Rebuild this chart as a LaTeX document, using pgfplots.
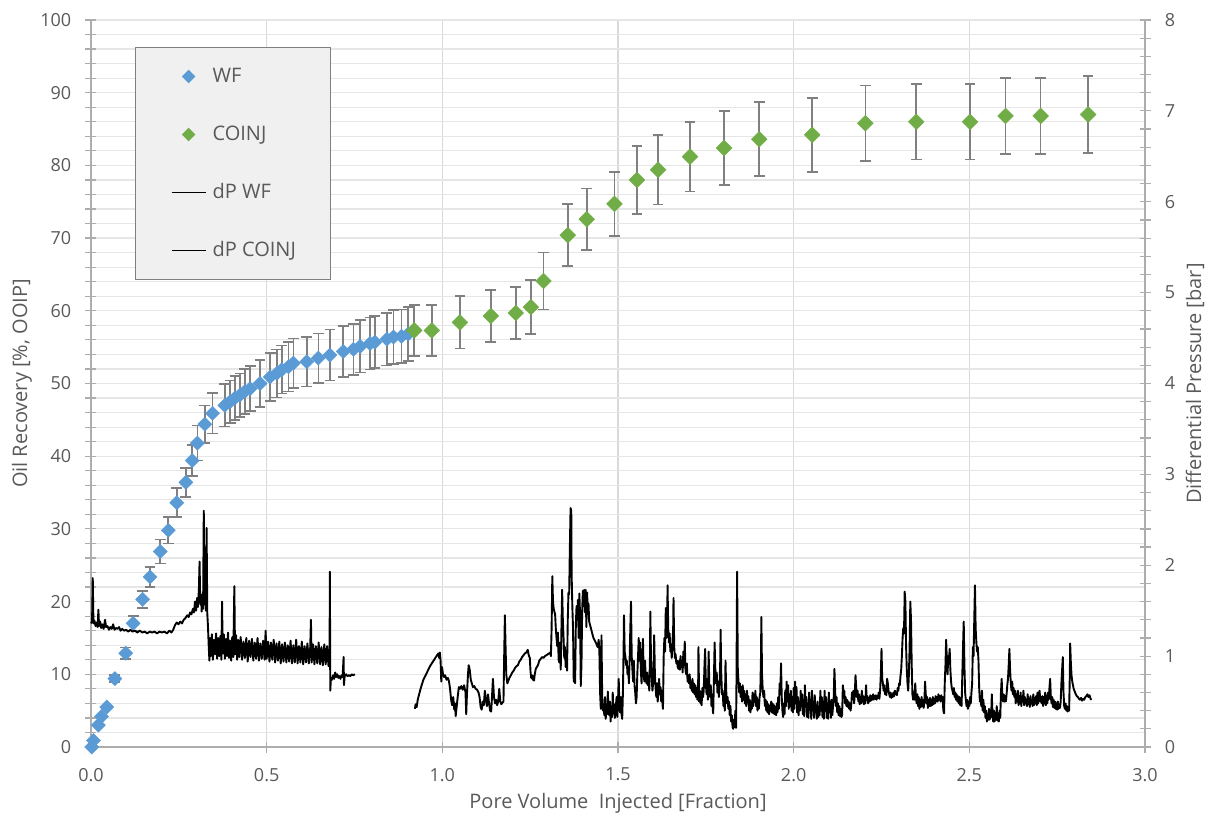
\documentclass[border=0pt]{standalone}
\usepackage{fontspec}
\setmainfont{Open Sans}
\usepackage{pgfplots}
\usepackage{pgfplotstable}
\pgfplotsset{compat=1.18}

\definecolor{wfblue}{HTML}{5B9BD5}
\definecolor{cogreen}{HTML}{70AD47}
\definecolor{txtgray}{HTML}{595959}
\definecolor{axgray}{HTML}{ADADAD}
\definecolor{vgrid}{HTML}{D9D9D9}
\definecolor{hgrid}{HTML}{E6E6E6}
\definecolor{errgray}{HTML}{808080}
\definecolor{legdraw}{HTML}{7F7F7F}
\definecolor{legfill}{HTML}{F0F0F0}

% Oil recovery, waterflood stage: PV injected, recovery [%OOIP], error
\pgfplotstableread{
x y e
0.002 0.0 0.0
0.007 0.9 0.0
0.021 3.0 0.0
0.030 4.2 0.0
0.045 5.5 0.0
0.068 9.4 0.5
0.099 12.9 0.8
0.120 17.0 1.0
0.147 20.3 1.15
0.168 23.4 1.4
0.197 26.9 1.65
0.220 29.8 1.8
0.244 33.6 2.0
0.270 36.4 2.0
0.288 39.4 2.1
0.303 41.8 2.4
0.324 44.4 2.6
0.346 45.9 2.8
0.381 47.0 2.9
0.396 47.5 2.9
0.410 48.0 3.0
0.424 48.4 3.0
0.438 48.9 3.1
0.453 49.3 3.1
0.481 50.0 3.2
0.510 50.9 3.3
0.529 51.4 3.3
0.543 51.9 3.3
0.562 52.3 3.4
0.576 52.8 3.4
0.614 53.0 3.4
0.647 53.5 3.4
0.680 53.9 3.5
0.718 54.4 3.5
0.747 54.7 3.5
0.766 55.1 3.6
0.794 55.5 3.6
0.808 55.7 3.6
0.842 56.1 3.6
0.861 56.4 3.7
0.884 56.5 3.7
0.903 56.8 3.7
}\wfdata

% Oil recovery, co-injection stage
\pgfplotstableread{
x y e
0.920 57.3 3.5
0.970 57.3 3.5
1.050 58.4 3.6
1.138 59.3 3.6
1.209 59.7 3.6
1.252 60.5 3.7
1.288 64.1 3.9
1.357 70.4 4.25
1.411 72.6 4.2
1.490 74.7 4.4
1.554 78.0 4.7
1.614 79.4 4.8
1.705 81.2 4.8
1.802 82.4 5.1
1.902 83.6 5.1
2.053 84.2 5.1
2.204 85.8 5.2
2.349 86.0 5.2
2.502 86.0 5.2
2.603 86.8 5.2
2.703 86.8 5.2
2.838 87.0 5.3
}\coinjdata

% Differential pressure during waterflood [bar]
\pgfplotstableread{
x p
0.000 1.36
0.003 1.38
0.005 1.86
0.007 1.36
0.010 1.39
0.013 1.33
0.016 1.37
0.019 1.32
0.021 1.51
0.023 1.33
0.026 1.38
0.029 1.31
0.032 1.35
0.036 1.30
0.040 1.40
0.043 1.32
0.047 1.33
0.051 1.29
0.055 1.32
0.059 1.30
0.063 1.35
0.067 1.29
0.071 1.31
0.075 1.30
0.080 1.32
0.084 1.28
0.089 1.30
0.094 1.28
0.100 1.29
0.106 1.27
0.112 1.29
0.118 1.27
0.125 1.28
0.132 1.26
0.139 1.28
0.146 1.26
0.153 1.27
0.160 1.25
0.167 1.27
0.174 1.26
0.181 1.27
0.188 1.25
0.195 1.27
0.202 1.26
0.209 1.27
0.216 1.25
0.223 1.28
0.229 1.26
0.234 1.29
0.239 1.34
0.244 1.37
0.249 1.35
0.254 1.38
0.259 1.36
0.264 1.40
0.269 1.42
0.274 1.45
0.278 1.43
0.282 1.48
0.286 1.46
0.290 1.52
0.293 1.48
0.296 1.60
0.299 1.50
0.302 1.64
0.304 1.54
0.307 1.72
0.309 2.04
0.311 1.57
0.313 1.68
0.315 1.49
0.317 1.64
0.319 1.52
0.321 2.60
0.323 1.57
0.325 1.72
0.327 1.50
0.329 2.41
0.331 1.47
0.333 1.32
0.335 1.12
0.337 0.95
0.339 1.20
0.341 1.00
0.344 1.24
0.347 0.96
0.350 1.18
0.353 1.02
0.356 1.25
0.359 0.97
0.362 1.20
0.365 1.00
0.368 1.22
0.371 0.96
0.373 1.60
0.375 1.03
0.378 1.24
0.381 0.97
0.384 1.19
0.387 1.00
0.390 1.26
0.393 0.98
0.396 1.17
0.399 0.95
0.402 1.21
0.405 0.99
0.408 1.77
0.410 1.02
0.413 1.23
0.416 0.96
0.419 1.18
0.422 0.99
0.426 1.21
0.430 0.96
0.434 1.16
0.438 0.98
0.442 1.20
0.446 0.94
0.450 1.17
0.454 0.99
0.458 1.19
0.462 0.95
0.466 1.15
0.470 0.97
0.474 1.20
0.478 0.95
0.482 1.14
0.486 0.97
0.490 1.17
0.494 0.96
0.497 1.28
0.500 0.97
0.504 1.16
0.508 0.94
0.512 1.15
0.516 0.96
0.520 1.18
0.524 0.93
0.528 1.14
0.532 0.95
0.536 1.16
0.540 0.92
0.544 1.13
0.548 0.94
0.552 1.15
0.556 0.93
0.560 1.12
0.564 0.94
0.568 1.17
0.572 0.92
0.576 1.12
0.580 0.93
0.584 1.18
0.588 0.92
0.592 1.11
0.596 0.93
0.600 1.16
0.604 0.91
0.608 1.11
0.612 0.93
0.616 1.14
0.620 0.92
0.624 1.10
0.626 1.40
0.628 0.93
0.632 1.13
0.636 0.91
0.640 1.11
0.644 0.92
0.648 1.15
0.652 0.91
0.656 1.10
0.660 0.90
0.664 1.13
0.668 0.91
0.672 1.11
0.676 0.89
0.679 1.08
0.680 1.93
0.681 0.62
0.683 0.76
0.686 0.74
0.689 0.79
0.692 0.75
0.695 0.82
0.698 0.77
0.701 0.80
0.704 0.76
0.707 0.78
0.710 0.75
0.713 0.79
0.716 0.77
0.719 0.99
0.720 0.68
0.722 0.78
0.726 0.80
0.730 0.78
0.734 0.79
0.738 0.78
0.742 0.80
0.746 0.79
0.751 0.80
}\dpwf

% Differential pressure during co-injection [bar]
\pgfplotstableread{
x p
0.922 0.42
0.924 0.47
0.927 0.44
0.930 0.52
0.934 0.58
0.938 0.64
0.942 0.69
0.946 0.74
0.950 0.77
0.955 0.81
0.960 0.85
0.965 0.89
0.970 0.92
0.975 0.95
0.980 0.98
0.985 1.01
0.989 1.03
0.991 0.98
0.993 1.04
0.995 0.95
0.997 0.72
0.999 0.88
1.002 0.80
1.005 0.77
1.008 0.79
1.012 0.74
1.016 0.76
1.019 0.72
1.022 0.64
1.025 0.52
1.028 0.46
1.031 0.55
1.034 0.41
1.036 0.48
1.038 0.34
1.041 0.45
1.044 0.56
1.047 0.66
1.050 0.64
1.054 0.67
1.058 0.63
1.062 0.68
1.066 0.60
1.068 0.36
1.070 0.58
1.073 0.80
1.075 0.90
1.078 0.85
1.081 0.74
1.084 0.70
1.087 0.66
1.091 0.67
1.095 0.64
1.099 0.63
1.103 0.60
1.106 0.55
1.109 0.44
1.112 0.41
1.115 0.50
1.118 0.46
1.121 0.62
1.124 0.51
1.127 0.45
1.130 0.58
1.133 0.48
1.136 0.40
1.139 0.39
1.142 0.60
1.144 0.75
1.147 0.55
1.150 0.48
1.153 0.52
1.156 0.46
1.159 0.50
1.162 0.64
1.165 0.50
1.168 0.47
1.171 0.49
1.174 0.50
1.176 1.00
1.178 1.45
1.180 1.10
1.182 0.80
1.185 0.70
1.188 0.73
1.191 0.76
1.195 0.79
1.199 0.82
1.203 0.84
1.207 0.87
1.211 0.89
1.215 0.90
1.219 0.94
1.223 0.96
1.227 0.99
1.231 1.01
1.235 1.03
1.239 1.04
1.243 1.07
1.246 1.01
1.249 0.98
1.251 0.83
1.253 0.76
1.255 0.79
1.257 0.74
1.259 0.78
1.261 0.73
1.263 0.80
1.266 0.86
1.269 0.88
1.272 0.90
1.276 0.95
1.280 0.97
1.284 0.99
1.288 0.98
1.292 1.00
1.296 1.01
1.300 1.02
1.304 1.03
1.307 1.04
1.309 1.00
1.311 1.30
1.313 1.88
1.315 1.60
1.317 1.52
1.319 1.49
1.321 1.46
1.323 1.30
1.325 1.20
1.327 1.11
1.329 1.26
1.331 0.96
1.333 0.93
1.335 1.15
1.337 0.85
1.339 1.30
1.341 1.73
1.343 1.40
1.345 1.20
1.347 0.98
1.349 1.10
1.351 0.88
1.353 1.02
1.355 0.84
1.357 1.40
1.359 1.70
1.361 1.68
1.363 2.20
1.365 2.63
1.367 2.60
1.368 1.90
1.370 1.55
1.372 1.30
1.374 0.72
1.376 0.95
1.378 0.70
1.380 1.35
1.382 1.55
1.384 1.40
1.386 1.62
1.388 1.20
1.390 1.69
1.392 1.45
1.394 0.67
1.396 0.90
1.398 1.50
1.400 1.72
1.402 1.55
1.404 1.73
1.406 1.48
1.408 1.73
1.410 1.32
1.412 1.70
1.414 1.50
1.416 1.58
1.418 1.38
1.422 1.32
1.426 1.26
1.430 1.20
1.434 1.17
1.438 1.14
1.442 1.10
1.445 1.18
1.447 1.05
1.449 0.60
1.451 0.42
1.453 1.23
1.455 0.55
1.457 0.40
1.459 0.47
1.461 0.35
1.463 0.55
1.465 0.31
1.467 0.44
1.469 0.36
1.471 0.61
1.473 0.40
1.475 0.35
1.477 0.50
1.479 0.28
1.481 0.45
1.483 0.33
1.485 0.60
1.487 0.37
1.489 0.47
1.491 0.32
1.493 0.40
1.496 0.55
1.498 0.33
1.500 0.50
1.502 0.75
1.504 0.45
1.506 0.38
1.508 0.55
1.510 0.36
1.512 0.31
1.514 0.60
1.516 1.10
1.517 1.45
1.519 1.05
1.521 1.00
1.523 0.90
1.525 0.95
1.527 0.80
1.529 0.88
1.531 0.70
1.533 0.95
1.535 1.30
1.537 1.60
1.539 1.00
1.541 0.85
1.543 0.72
1.545 0.95
1.547 0.68
1.549 0.60
1.551 0.48
1.553 0.55
1.555 0.80
1.557 1.00
1.559 1.20
1.561 0.95
1.563 1.15
1.565 0.85
1.567 0.70
1.569 0.90
1.571 1.19
1.573 0.80
1.575 0.72
1.577 0.95
1.579 0.75
1.581 0.70
1.583 0.82
1.585 0.68
1.587 0.75
1.589 0.62
1.591 1.00
1.592 1.49
1.594 0.95
1.596 0.75
1.598 0.62
1.600 0.70
1.602 1.00
1.603 1.23
1.605 0.80
1.607 0.65
1.609 0.55
1.611 0.70
1.613 0.50
1.615 0.60
1.617 0.75
1.619 0.58
1.621 0.66
1.623 0.50
1.625 0.62
1.627 0.45
1.628 0.42
1.630 1.00
1.632 1.20
1.634 1.05
1.636 1.53
1.638 1.20
1.640 1.35
1.641 1.78
1.643 1.30
1.645 1.15
1.647 1.25
1.649 1.05
1.651 1.10
1.653 0.98
1.655 1.15
1.657 1.30
1.658 1.64
1.660 1.10
1.662 0.98
1.664 1.02
1.666 0.92
1.668 0.95
1.670 0.88
1.672 0.86
1.674 0.95
1.676 0.85
1.678 1.00
1.680 0.88
1.682 0.95
1.684 0.82
1.686 1.05
1.688 0.90
1.690 1.16
1.692 0.85
1.694 0.80
1.696 0.92
1.698 0.72
1.700 0.78
1.702 0.70
1.704 0.80
1.706 0.65
1.708 0.72
1.710 0.62
1.712 0.75
1.714 0.60
1.716 0.70
1.718 0.58
1.720 0.68
1.722 0.55
1.724 0.65
1.726 0.52
1.728 0.62
1.729 1.10
1.731 0.50
1.733 0.62
1.735 0.48
1.737 0.55
1.738 0.46
1.740 0.65
1.742 0.55
1.744 0.62
1.746 0.88
1.748 1.08
1.750 0.70
1.752 0.58
1.754 0.75
1.756 0.52
1.758 1.05
1.760 0.65
1.762 0.55
1.764 0.68
1.766 0.45
1.768 0.58
1.770 0.40
1.771 0.37
1.773 0.75
1.775 1.15
1.777 0.85
1.779 0.70
1.781 0.82
1.783 0.60
1.785 0.72
1.787 0.55
1.789 0.68
1.791 0.95
1.792 1.29
1.794 0.80
1.796 0.58
1.798 0.62
1.800 0.45
1.802 0.52
1.804 0.40
1.806 0.95
1.808 0.62
1.810 0.48
1.812 0.55
1.814 0.42
1.816 0.50
1.818 0.35
1.820 0.45
1.822 0.28
1.824 0.35
1.826 0.22
1.828 0.20
1.830 0.30
1.832 0.22
1.834 0.40
1.836 0.21
1.837 0.60
1.839 1.93
1.841 0.85
1.843 0.72
1.845 0.60
1.847 0.70
1.849 0.55
1.851 0.66
1.853 0.50
1.855 0.68
1.857 0.52
1.859 0.62
1.861 0.48
1.863 0.58
1.865 0.45
1.867 0.62
1.869 0.50
1.871 0.56
1.873 0.40
1.875 0.52
1.877 0.38
1.879 0.50
1.881 0.42
1.883 0.60
1.885 0.45
1.887 0.58
1.889 0.50
1.891 0.62
1.893 0.45
1.895 0.55
1.897 0.40
1.899 0.52
1.901 0.42
1.903 0.55
1.905 0.60
1.907 1.00
1.908 1.43
1.910 0.80
1.912 0.62
1.914 0.55
1.916 0.62
1.918 0.45
1.920 0.52
1.922 0.40
1.924 0.50
1.926 0.38
1.928 0.47
1.930 0.36
1.932 0.45
1.934 0.40
1.936 0.50
1.938 0.38
1.940 0.48
1.942 0.37
1.944 0.46
1.946 0.36
1.948 0.44
1.950 0.35
1.952 0.48
1.954 0.38
1.956 0.55
1.958 0.42
1.960 0.70
1.962 0.60
1.964 0.92
1.966 0.55
1.968 0.40
1.970 0.33
1.972 0.48
1.974 0.36
1.976 0.62
1.978 0.45
1.980 0.72
1.982 0.50
1.984 0.68
1.986 0.42
1.988 0.58
1.990 0.45
1.992 0.62
1.994 0.40
1.996 0.55
1.998 0.38
2.000 0.65
2.002 0.42
2.004 0.72
2.006 0.48
2.008 0.66
2.010 0.38
2.012 0.55
2.014 0.35
2.016 0.50
2.018 0.40
2.020 0.62
2.022 0.45
2.024 0.58
2.026 0.36
2.028 0.52
2.030 0.34
2.032 0.68
2.034 0.45
2.036 0.55
2.038 0.33
2.040 0.48
2.042 0.32
2.044 0.60
2.046 0.42
2.048 0.52
2.050 0.31
2.052 0.62
2.054 0.40
2.056 0.50
2.058 0.32
2.060 0.57
2.062 0.38
2.064 0.46
2.066 0.31
2.068 0.50
2.070 0.33
2.072 0.42
2.074 0.35
2.076 0.62
2.078 0.40
2.080 0.55
2.082 0.33
2.084 0.50
2.086 0.31
2.088 0.62
2.090 0.40
2.092 0.55
2.094 0.32
2.096 0.48
2.098 0.31
2.100 0.60
2.102 0.38
2.104 0.50
2.106 0.32
2.108 0.52
2.110 0.35
2.112 0.45
2.114 0.55
2.116 0.86
2.118 0.62
2.120 0.45
2.122 0.55
2.124 0.38
2.126 0.48
2.128 0.35
2.130 0.45
2.132 0.34
2.134 0.42
2.136 0.33
2.138 0.36
2.140 0.68
2.142 0.58
2.144 0.62
2.146 0.48
2.148 0.55
2.150 0.45
2.152 0.52
2.154 0.44
2.156 0.50
2.158 0.42
2.160 0.48
2.162 0.40
2.164 0.47
2.166 0.60
2.168 0.55
2.170 0.62
2.172 0.48
2.174 0.58
2.176 0.79
2.178 0.65
2.180 0.55
2.182 0.62
2.184 0.50
2.186 0.58
2.188 0.47
2.190 0.55
2.192 0.48
2.194 0.62
2.196 0.50
2.198 0.56
2.200 0.47
2.202 0.55
2.204 0.48
2.206 0.68
2.208 0.52
2.210 0.56
2.212 0.48
2.214 0.54
2.216 0.50
2.218 0.57
2.220 0.51
2.222 0.56
2.224 0.52
2.226 0.58
2.228 0.52
2.230 0.56
2.232 0.53
2.234 0.57
2.236 0.52
2.238 0.56
2.240 0.54
2.242 0.60
2.244 0.53
2.246 0.62
2.248 0.80
2.250 1.08
2.252 0.75
2.254 0.70
2.256 0.62
2.258 0.68
2.260 0.58
2.262 0.64
2.264 0.57
2.266 0.75
2.268 0.70
2.270 0.62
2.272 0.58
2.274 0.55
2.276 0.60
2.278 0.54
2.280 0.58
2.282 0.55
2.284 0.60
2.286 0.56
2.288 0.62
2.290 0.58
2.292 0.60
2.294 0.57
2.296 0.65
2.298 0.62
2.300 0.70
2.302 0.68
2.304 0.78
2.306 0.85
2.308 1.00
2.310 1.20
2.312 1.31
2.314 1.25
2.316 1.71
2.318 1.60
2.320 1.10
2.322 0.85
2.324 0.70
2.326 0.62
2.328 0.80
2.330 1.10
2.332 1.60
2.334 1.40
2.336 0.90
2.338 0.58
2.340 0.52
2.342 0.60
2.344 0.52
2.346 0.70
2.348 0.55
2.350 0.48
2.352 0.58
2.354 0.45
2.356 0.55
2.358 0.42
2.360 0.52
2.362 0.44
2.364 0.55
2.366 0.45
2.368 0.52
2.370 0.43
2.372 0.50
2.374 0.72
2.376 0.58
2.378 0.48
2.380 0.55
2.382 0.43
2.384 0.52
2.386 0.45
2.388 0.54
2.390 0.45
2.392 0.52
2.394 0.46
2.396 0.55
2.398 0.47
2.400 0.53
2.402 0.48
2.404 0.56
2.406 0.50
2.408 0.55
2.410 0.50
2.412 0.58
2.414 0.52
2.416 0.56
2.418 0.50
2.420 0.57
2.422 0.52
2.424 0.55
2.426 0.40
2.428 0.37
2.430 0.70
2.432 0.90
2.434 1.18
2.436 0.95
2.438 0.80
2.440 1.00
2.442 0.95
2.444 1.08
2.446 0.85
2.448 0.72
2.450 0.65
2.452 0.62
2.454 0.58
2.456 0.65
2.458 0.55
2.460 0.60
2.462 0.52
2.464 0.58
2.466 0.50
2.468 0.56
2.470 0.48
2.472 0.55
2.474 0.46
2.476 0.52
2.478 0.45
2.480 0.80
2.482 1.10
2.484 1.38
2.486 0.90
2.488 0.60
2.490 0.52
2.492 0.45
2.494 0.52
2.496 0.42
2.498 0.50
2.500 0.45
2.502 0.55
2.504 0.48
2.506 0.60
2.508 0.70
2.510 1.10
2.512 1.00
2.514 1.40
2.516 1.78
2.518 1.30
2.520 1.15
2.522 1.05
2.524 1.10
2.526 0.95
2.528 0.65
2.530 0.50
2.532 0.55
2.534 0.45
2.536 0.62
2.538 0.40
2.540 0.52
2.542 0.38
2.544 0.45
2.546 0.32
2.548 0.40
2.550 0.28
2.552 0.36
2.554 0.30
2.556 0.42
2.558 0.30
2.560 0.40
2.562 0.33
2.564 0.58
2.566 0.35
2.568 0.28
2.570 0.40
2.572 0.28
2.574 0.38
2.576 0.30
2.578 0.45
2.580 0.29
2.582 0.36
2.584 0.28
2.586 0.40
2.588 0.32
2.590 0.60
2.592 0.75
2.594 0.55
2.596 0.50
2.598 0.58
2.600 0.50
2.602 0.56
2.604 0.50
2.606 0.58
2.608 0.68
2.610 0.75
2.612 0.90
2.614 1.08
2.616 0.85
2.618 0.70
2.620 0.62
2.622 0.72
2.624 0.58
2.626 0.65
2.628 0.55
2.630 0.62
2.632 0.48
2.634 0.58
2.636 0.50
2.638 0.62
2.640 0.46
2.642 0.56
2.644 0.48
2.646 0.60
2.648 0.45
2.650 0.55
2.652 0.50
2.654 0.62
2.656 0.46
2.658 0.55
2.660 0.48
2.662 0.52
2.664 0.45
2.666 0.58
2.668 0.47
2.670 0.53
2.672 0.44
2.674 0.56
2.676 0.48
2.678 0.52
2.680 0.45
2.682 0.58
2.684 0.46
2.686 0.54
2.688 0.48
2.690 0.56
2.692 0.46
2.694 0.60
2.696 0.48
2.698 0.58
2.700 0.62
2.702 0.50
2.704 0.55
2.706 0.48
2.708 0.56
2.710 0.45
2.712 0.55
2.714 0.48
2.716 0.60
2.718 0.46
2.720 0.56
2.722 0.48
2.724 0.60
2.726 0.52
2.728 0.65
2.730 0.75
2.732 0.55
2.734 0.48
2.736 0.55
2.738 0.44
2.740 0.52
2.742 0.43
2.744 0.50
2.746 0.42
2.748 0.48
2.750 0.41
2.752 0.50
2.754 0.42
2.756 0.47
2.758 0.43
2.760 0.50
2.762 0.70
2.764 0.85
2.766 0.99
2.768 0.60
2.770 0.45
2.772 0.42
2.774 0.48
2.776 0.40
2.778 0.45
2.780 0.39
2.782 0.44
2.784 0.40
2.786 0.80
2.787 1.14
2.789 0.92
2.791 0.78
2.793 0.72
2.795 0.68
2.797 0.64
2.799 0.62
2.801 0.60
2.803 0.58
2.806 0.56
2.809 0.55
2.812 0.53
2.815 0.52
2.818 0.54
2.821 0.51
2.824 0.53
2.827 0.52
2.830 0.55
2.833 0.56
2.836 0.58
2.839 0.55
2.842 0.57
2.845 0.53
2.848 0.52
}\dpcoinj

\pgfplotsset{
  chartbase/.style={
    scale only axis, width=527pt, height=363.5pt,
    xmin=0, xmax=3, clip=false,
    /pgf/number format/assume math mode=true,
    axis line style={axgray, line width=0.6pt},
    tick style={axgray, line width=0.6pt},
    tick align=center,
    major tick length=5.5pt, minor tick length=5.5pt,
    tick label style={font=\fontsize{9}{11}\selectfont, text=txtgray},
    label style={font=\fontsize{10}{12}\selectfont, text=txtgray},
  },
  recbars/.style={
    error bars/.cd, y dir=both, y explicit,
    error bar style={errgray, line width=0.8pt},
    error mark options={rotate=90, errgray, line width=0.8pt, mark size=2.7pt},
  },
}

\begin{document}
\begin{tikzpicture}
\useasboundingbox (-45.5pt,-35.5pt) rectangle (561pt,373.5pt);

% recovery axis (left) with the grid
\begin{axis}[chartbase,
  axis y line*=left, axis x line*=bottom,
  ymin=0, ymax=100, ytick={0,10,...,100}, minor y tick num=4,
  xtick={0,0.5,...,3}, xticklabels={0.0,0.5,1.0,1.5,2.0,2.5,3.0},
  xmajorgrids, ymajorgrids, yminorgrids,
  x grid style={vgrid, line width=0.6pt},
  y grid style={hgrid, line width=0.6pt},
  minor y grid style={hgrid, line width=0.6pt},
  yticklabel style={anchor=east, inner sep=0pt, xshift=-6.95pt},
  xticklabel style={anchor=north, inner sep=0pt, yshift=-7.6pt},
  ylabel={Oil Recovery [\%, OOIP]},
  ylabel style={at={(axis description cs:-0.0655,0.5)}, anchor=center},
  xlabel={Pore Volume\ \ Injected [Fraction]},
  xlabel style={at={(axis description cs:0.5,-0.077)}, anchor=center},
]
\addplot[only marks, mark=square*, mark size=2.5pt,
  mark options={rotate=45, fill=wfblue, draw=wfblue, line width=0.2pt},
  recbars]
  table[x=x, y=y, y error=e] {\wfdata};
\addplot[only marks, mark=square*, mark size=2.8pt,
  mark options={rotate=45, fill=cogreen, draw=cogreen, line width=0.2pt},
  recbars]
  table[x=x, y=y, y error=e] {\coinjdata};
\end{axis}

% pressure axis (right) with the legend
\begin{axis}[chartbase,
  axis y line*=right, axis x line=none,
  ymin=0, ymax=8, ytick={0,1,...,8}, minor y tick num=4,
  yticklabel style={anchor=west, inner sep=0pt, xshift=6.95pt},
  ylabel={Differential Pressure [bar]},
  ylabel style={at={(axis description cs:1.0474,0.5)}, anchor=center},
  legend cell align=left,
  legend style={at={(0.0417,0.963)}, anchor=north west,
    draw=legdraw, line width=0.6pt, fill=legfill,
    inner xsep=17.5pt, inner ysep=0pt, row sep=0pt, column sep=3pt,
    nodes={inner sep=0pt, minimum height=29pt,
      font=\fontsize{10}{12}\selectfont, text=txtgray}},
]
\addlegendimage{only marks, mark=square*, mark size=2.1pt,
  mark options={rotate=45, fill=wfblue, draw=wfblue}}
\addlegendentry{WF}
\addlegendimage{only marks, mark=square*, mark size=2.1pt,
  mark options={rotate=45, fill=cogreen, draw=cogreen}}
\addlegendentry{COINJ}
\addplot[black, line width=0.95pt, line join=round] table[x=x, y=p] {\dpwf};
\addlegendentry{dP WF}
\addplot[black, line width=0.95pt, line join=round] table[x=x, y=p] {\dpcoinj};
\addlegendentry{dP COINJ}
\end{axis}
\end{tikzpicture}
\end{document}
